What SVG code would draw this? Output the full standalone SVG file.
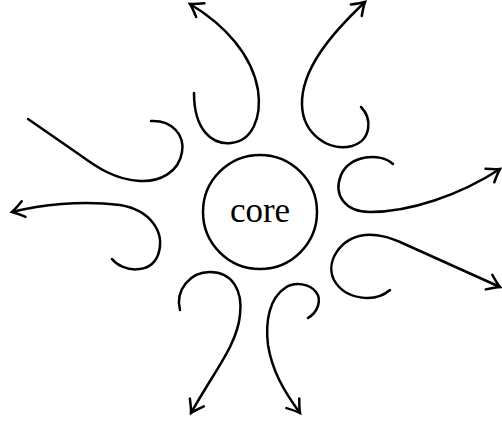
<svg xmlns="http://www.w3.org/2000/svg" width="502" height="424" viewBox="0 0 502 424">
<style>
.c{fill:none;stroke:#000;stroke-width:2.5;stroke-linecap:round}
.n{fill:none;stroke:#000;stroke-width:2.5}
.t{font-family:"Liberation Serif","Times New Roman",serif;font-size:35px;fill:#000}
</style>
<defs>
<marker id="ar" markerUnits="userSpaceOnUse" orient="auto" markerWidth="30" markerHeight="30" refX="0" refY="0" viewBox="-15 -15 30 30" overflow="visible">
<path d="M-12,-8 Q-4,-2 0,0 Q-4,2 -12,8" fill="none" stroke="#000" stroke-width="2.5" stroke-linecap="round"/>
</marker>
</defs>
<g id="core">
<circle class="n" cx="260" cy="212" r="57"/>
<text class="t" x="260" y="222" text-anchor="middle">core</text>
</g>
<g id="connectors">
<path class="c" d="M194,93 C194,130 212,145 231,143 C252,141 262,118 258,90 C252,55 225,25 190,4" marker-end="url(#ar)"/>
<path class="c" d="M361,107 C372,118 372,140 352,146 C330,152 303,135 302,105 C301,70 330,35 365,2" marker-end="url(#ar)"/>
<path class="c" d="M151,121 C172,120 185,135 182,152 C179,172 160,182 140,181 C115,180 95,166 80,155 L28,119"/>
<path class="c" d="M112,259 C122,272 150,275 158,255 C166,232 150,210 120,205 C80,200 40,205 12,212" marker-end="url(#ar)"/>
<path class="c" d="M393,164 C380,152 350,155 341,175 C333,195 345,212 370,212 C410,212 460,195 500,169" marker-end="url(#ar)"/>
<path class="c" d="M390,290 C375,303 345,300 334,280 C325,262 340,238 365,235 C380,234 390,238 400,242 L500,287" marker-end="url(#ar)"/>
<path class="c" d="M180,310 C175,290 190,272 210,272 C232,272 243,290 240,315 C237,345 215,370 191,413" marker-end="url(#ar)"/>
<path class="c" d="M308,318 C318,312 322,300 316,292 C310,284 295,281 285,288 C270,298 265,320 268,345 C272,370 283,390 300,413" marker-end="url(#ar)"/>
</g>
</svg>
